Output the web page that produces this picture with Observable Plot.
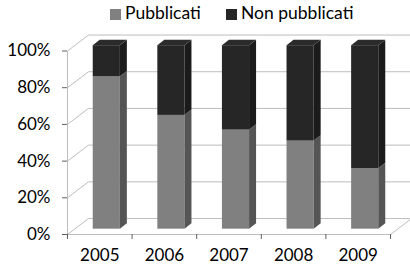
<!DOCTYPE html>
<html>
<head>
<meta charset="utf-8">
<script src="https://cdn.jsdelivr.net/npm/d3@7"></script>
<script src="https://cdn.jsdelivr.net/npm/@observablehq/plot@0.6"></script>
<style>
  html, body { margin: 0; padding: 0; background: #fff; }
  #wrap { width: 410px; height: 273px; position: relative; font-family: Lato, sans-serif; }
  #legend { position: relative; height: 28px; width: 410px; }
  #legend .sw { position: absolute; top: 9px; width: 11px; height: 11px; }
  #legend .lab { position: absolute; top: 2px; font-size: 17.5px; color: #000; white-space: nowrap; }
</style>
</head>
<body>
<div id="wrap">
  <div id="legend">
    <div class="sw" style="left:110px;background:#808080"></div>
    <div class="lab" id="lab0" style="left:125px"></div>
    <div class="sw" style="left:226px;background:#262626"></div>
    <div class="lab" id="lab1" style="left:241px"></div>
  </div>
  <div id="chart"></div>
</div>
<script>
const years = ["2005", "2006", "2007", "2008", "2009"];
const seriesNames = ["Pubblicati", "Non pubblicati"];
const pubblicati = [83, 62, 54, 48, 33];
const nonPubblicati = [17, 38, 46, 52, 67];
const yTicks = [0, 20, 40, 60, 80, 100];

document.getElementById("lab0").textContent = seriesNames[0];
document.getElementById("lab1").textContent = seriesNames[1];

// 3D depth of the chart box, in data units (x: category bands, y: percent)
const depthX = 0.325, depthY = 8.7;
const bx = depthX / 3, by = depthY / 3;
const halfW = 0.21;

const colors = {
  front: ["#808080", "#262626"],
  side: ["#555555", "#1b1b1b"],
  top: ["#8a8a8a", "#2b2b2b"]
};

// stacked segments
const segs = [];
years.forEach((yr, i) => {
  const vals = [pubblicati[i], nonPubblicati[i]];
  let lo = 0;
  vals.forEach((v, s) => {
    segs.push({i, s, key: i + "-" + s, lo, hi: lo + v,
      x1: i + 0.5 - halfW + bx, x2: i + 0.5 + halfW + bx});
    lo += v;
  });
});

const sidePts = [];
const topPts = [];
segs.forEach(d => {
  sidePts.push({key: d.key, s: d.s, x: d.x2, y1: d.lo + by, y2: d.hi + by});
  sidePts.push({key: d.key, s: d.s, x: d.x2 + bx, y1: d.lo + 2 * by, y2: d.hi + 2 * by});
});
years.forEach((yr, i) => {
  const top = segs.filter(d => d.i === i).slice(-1)[0];
  topPts.push({key: top.key, s: top.s, y: top.hi + by, x1: top.x1, x2: top.x2});
  topPts.push({key: top.key, s: top.s, y: top.hi + 2 * by, x1: top.x1 + bx, x2: top.x2 + bx});
});

const gridColor = "#bdbdbd";
const leftWall = yTicks.map(t => ({t}));
const nCat = years.length;

const marks = [
  // back wall gridlines
  Plot.link(leftWall, {x1: nCat + depthX, x2: depthX, y1: d => d.t + depthY, y2: d => d.t + depthY, stroke: gridColor, strokeWidth: 1}),
  // left wall diagonals
  Plot.link(leftWall, {x1: 0, y1: d => d.t, x2: depthX, y2: d => d.t + depthY, stroke: gridColor, strokeWidth: 1}),
  // floor right edge
  Plot.link([0], {x1: nCat, y1: 0, x2: nCat + depthX, y2: depthY, stroke: gridColor}),
  // front axis lines
  Plot.link([0], {x1: 0, y1: 0, x2: nCat, y2: 0, stroke: gridColor}),
  Plot.link([0], {x1: 0, y1: 0, x2: 0, y2: 100, stroke: gridColor})
];

[0, 1].forEach(s => {
  marks.push(Plot.rect(segs.filter(d => d.s === s), {x1: "x1", x2: "x2", y1: d => d.lo + by, y2: d => d.hi + by, fill: colors.front[s]}));
  marks.push(Plot.areaY(sidePts.filter(d => d.s === s), {x: "x", y1: "y1", y2: "y2", z: "key", fill: colors.side[s]}));
});
[0, 1].forEach(s => {
  const pts = topPts.filter(d => d.s === s);
  if (pts.length) marks.push(Plot.areaX(pts, {y: "y", x1: "x1", x2: "x2", z: "key", fill: colors.top[s]}));
});

marks.push(
  Plot.axisY(yTicks, {tickSize: 5, tickPadding: 12, tickFormat: d => d + "%", stroke: "#606060", fill: "#000", fontSize: 17}),
  Plot.axisX(d3.range(nCat + 1), {tickSize: 5, tickFormat: () => "", stroke: "#606060"}),
  Plot.axisX(years.map((y, i) => i + 0.5), {tickSize: 0, tickPadding: 14, tickFormat: d => years[Math.floor(d)], fill: "#000", fontSize: 17})
);

const chart = Plot.plot({
  width: 410,
  height: 245,
  marginLeft: 67,
  marginRight: 20,
  marginTop: 22.5,
  marginBottom: 39,
  style: {fontFamily: "Lato, sans-serif", fontSize: "17px", background: "#fff", color: "#000"},
  x: {domain: [0, nCat]},
  y: {domain: [0, 100]},
  marks
});
document.getElementById("chart").appendChild(chart);
</script>
</body>
</html>
